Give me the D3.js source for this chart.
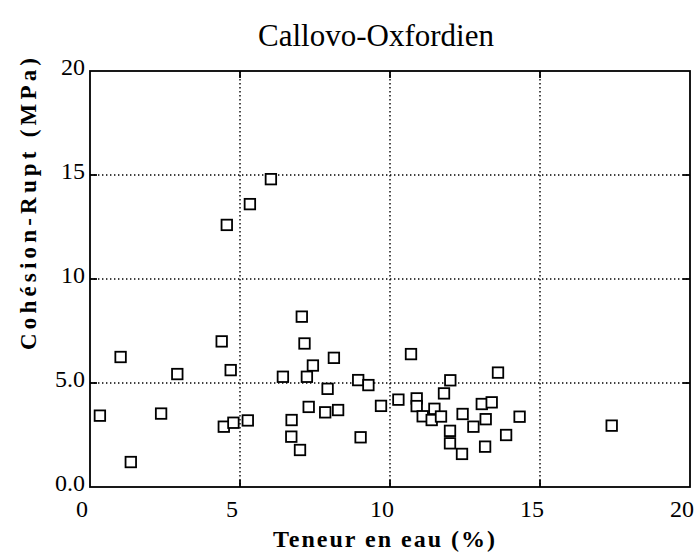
<!DOCTYPE html>
<html>
<head>
<meta charset="utf-8">
<script src="https://cdn.jsdelivr.net/npm/d3@7"></script>
<style>
  html, body { margin: 0; padding: 0; background: #fff; }
  svg { display: block; }
</style>
</head>
<body>
<svg id="chart" width="697" height="554"></svg>
<script>
// Water content (%) and cohesion at rupture (MPa) for Callovo-Oxfordian samples
const waterContent = [
  0.33, 1.02, 1.36, 2.37, 2.91, 4.39, 4.56, 4.69, 4.46, 4.78,
  5.26, 5.33, 6.03, 6.43, 6.72, 6.71, 7.00, 7.06, 7.15, 7.23,
  7.29, 7.43, 7.92, 7.84, 8.13, 8.27, 8.94, 9.02, 9.28, 9.70,
  10.28, 10.70, 10.89, 10.89, 11.09, 11.39, 11.48, 11.70, 11.80, 12.01,
  12.00, 12.00, 12.40, 12.42, 12.78, 13.06, 13.39, 13.19, 13.17, 13.60,
  13.87, 14.32, 17.39
];
const cohesion = [
  3.43, 6.25, 1.20, 3.53, 5.43, 7.00, 12.60, 5.62, 2.90, 3.09,
  3.20, 13.60, 14.80, 5.30, 3.22, 2.42, 1.78, 8.19, 6.90, 5.30,
  3.85, 5.84, 4.72, 3.59, 6.21, 3.70, 5.14, 2.39, 4.90, 3.90,
  4.20, 6.39, 4.26, 3.89, 3.40, 3.22, 3.76, 3.39, 4.50, 5.13,
  2.70, 2.10, 1.59, 3.51, 2.90, 3.99, 4.07, 3.26, 1.94, 5.50,
  2.50, 3.38, 2.95
];
const xTicks = [0, 5, 10, 15, 20];
const xTickLabels = ["0", "5", "10", "15", "20"];
const yTicks = [0, 5, 10, 15, 20];
const yTickLabels = ["0.0", "5.0", "10", "15", "20"];
const gridValues = [5, 10, 15];

const points = waterContent.map((w, i) => ({ w, c: cohesion[i] }));

const svg = d3.select("#chart");
const serif = "'Liberation Serif', 'DejaVu Serif', serif";

const x = d3.scaleLinear().domain([0, 20]).range([90, 690]);
const y = d3.scaleLinear().domain([0, 20]).range([487, 71]);

// Dotted grid
const grid = svg.append("g").attr("stroke", "#000").attr("stroke-width", 1.4)
  .attr("stroke-dasharray", "1.4,2.6");
grid.selectAll("line.v").data(gridValues).join("line").attr("class", "v")
  .attr("x1", d => x(d)).attr("x2", d => x(d))
  .attr("y1", y(20)).attr("y2", y(0));
grid.selectAll("line.h").data(gridValues).join("line").attr("class", "h")
  .attr("x1", x(0)).attr("x2", x(20))
  .attr("y1", d => y(d)).attr("y2", d => y(d));

// Frame
svg.append("rect")
  .attr("x", x(0)).attr("y", y(20))
  .attr("width", x(20) - x(0)).attr("height", y(0) - y(20))
  .attr("fill", "none").attr("stroke", "#000").attr("stroke-width", 1.8);

// Inward tick marks on all four sides
const ticks = svg.append("g").attr("stroke", "#000").attr("stroke-width", 1.8);
const tl = 7;
gridValues.forEach(v => {
  ticks.append("line").attr("x1", x(v)).attr("x2", x(v)).attr("y1", y(0)).attr("y2", y(0) - tl);
  ticks.append("line").attr("x1", x(v)).attr("x2", x(v)).attr("y1", y(20)).attr("y2", y(20) + tl);
  ticks.append("line").attr("x1", x(0)).attr("x2", x(0) + tl).attr("y1", y(v)).attr("y2", y(v));
  ticks.append("line").attr("x1", x(20)).attr("x2", x(20) - tl).attr("y1", y(v)).attr("y2", y(v));
});

// Tick labels
svg.append("g").selectAll("text").data(xTicks).join("text")
  .attr("x", d => x(d) - 8).attr("y", y(0) + 30)
  .attr("text-anchor", "middle")
  .attr("font-family", serif).attr("font-size", 24)
  .text((d, i) => xTickLabels[i]);

svg.append("g").selectAll("text").data(yTicks).join("text")
  .attr("x", x(0) - 5).attr("y", d => y(d) + 4)
  .attr("text-anchor", "end")
  .attr("font-family", serif).attr("font-size", 24)
  .text((d, i) => yTickLabels[i]);

// Data markers: open squares
const s = 10.5;
svg.append("g").selectAll("rect").data(points).join("rect")
  .attr("x", d => x(d.w) - s / 2).attr("y", d => y(d.c) - s / 2)
  .attr("width", s).attr("height", s)
  .attr("fill", "#fff").attr("stroke", "#000").attr("stroke-width", 1.8);

// Titles
svg.append("text")
  .attr("x", 376).attr("y", 46)
  .attr("text-anchor", "middle")
  .attr("font-family", serif).attr("font-size", 31)
  .text("Callovo-Oxfordien");

svg.append("text")
  .attr("x", 385).attr("y", 547)
  .attr("text-anchor", "middle")
  .attr("font-family", serif).attr("font-size", 24).attr("font-weight", "bold")
  .attr("letter-spacing", 2)
  .text("Teneur en eau (%)");

svg.append("text")
  .attr("transform", "translate(36,204) rotate(-90)")
  .attr("text-anchor", "middle")
  .attr("font-family", serif).attr("font-size", 23).attr("font-weight", "bold")
  .attr("textLength", 292).attr("lengthAdjust", "spacing")
  .text("Cohésion-Rupt  (MPa)");
</script>
</body>
</html>
